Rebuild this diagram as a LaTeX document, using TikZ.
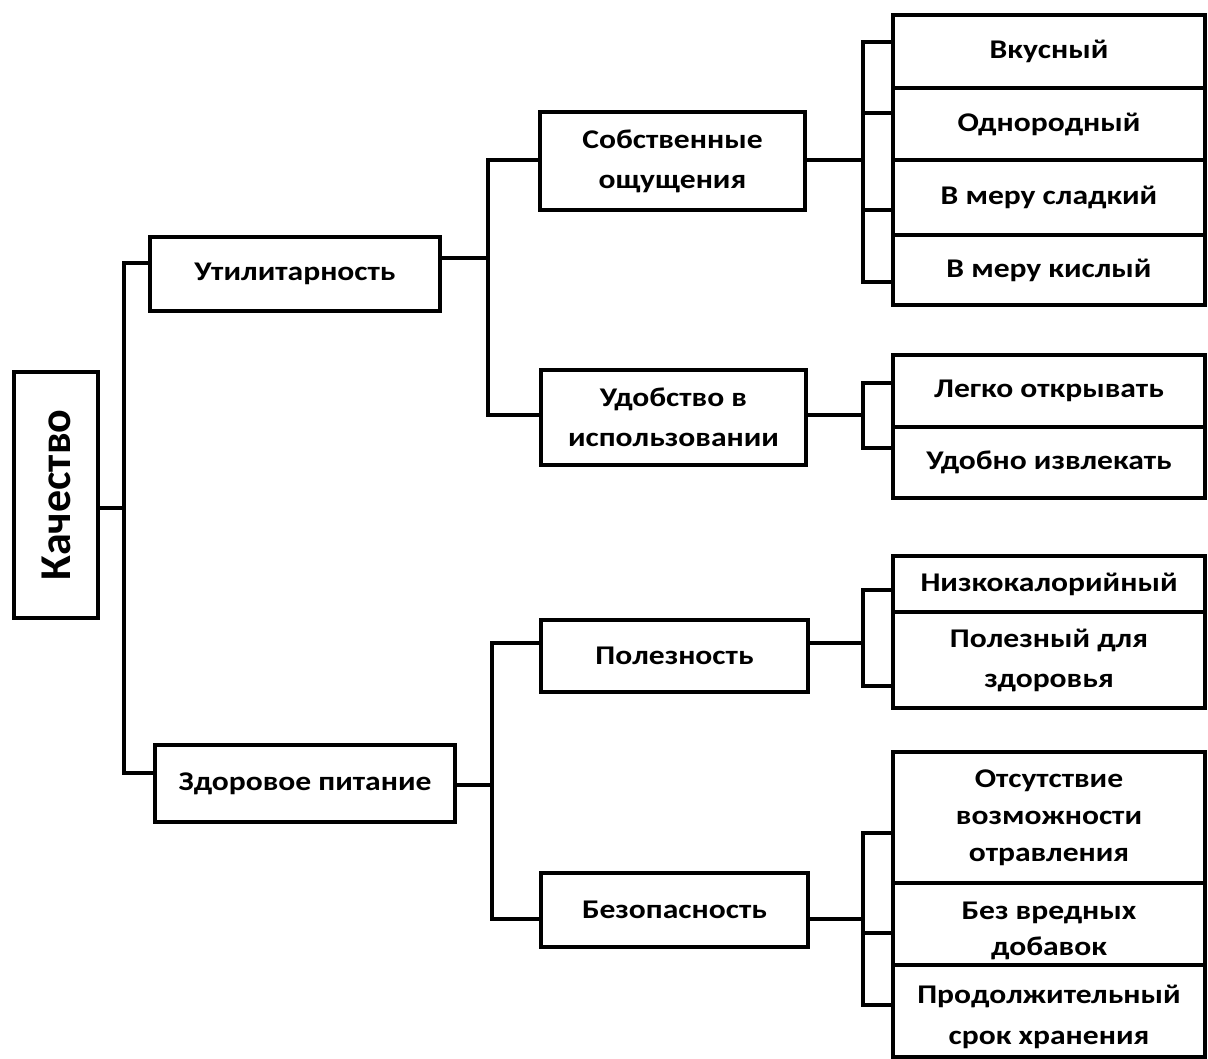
\documentclass[tikz,border=0pt]{standalone}
\usepackage{fontspec}
\setmainfont{Carlito}[BoldFont=* Bold,FakeStretch=1.17]
\newfontfamily\kachfont{Carlito}[BoldFont=* Bold]
\begin{document}
\begin{tikzpicture}[x=1pt,y=-1pt,
  box/.style={draw=black,line width=3.2pt,rectangle,inner sep=0pt,align=center,
    font=\bfseries\fontsize{27}{40}\selectfont},
  conn/.style={draw=black,line width=3.2pt}]
\useasboundingbox (0,0) rectangle (1208,1059);
% level 0
\node[box,minimum width=84pt,minimum height=246pt,font=\kachfont\bfseries\fontsize{44}{50}\selectfont] (kach) at (56,495) {\rotatebox{90}{Качество}};
% level 1
\node[box,minimum width=290pt,minimum height=74pt] (util) at (295,274) {Утилитарность};
\node[box,minimum width=300pt,minimum height=77pt] (zdor) at (305,783.5) {Здоровое питание};
% level 2
\node[box,minimum width=265pt,minimum height=98pt] (sobst) at (672.5,161) {Собственные\\ощущения};
\node[box,minimum width=265pt,minimum height=95pt] (udob) at (673.5,417.5) {Удобство в\\использовании};
\node[box,minimum width=267pt,minimum height=72pt] (polez) at (674.5,656) {Полезность};
\node[box,minimum width=267pt,minimum height=74pt] (bezop) at (674.5,910) {Безопасность};
% level 3
\node[box,minimum width=312pt,minimum height=73pt] (r1) at (1049,51.5) {Вкусный};
\node[box,minimum width=312pt,minimum height=72pt] (r2) at (1049,124) {Однородный};
\node[box,minimum width=312pt,minimum height=75pt] (r3) at (1049,197.5) {В меру сладкий};
\node[box,minimum width=312pt,minimum height=70pt] (r4) at (1049,270) {В меру кислый};
\node[box,minimum width=312pt,minimum height=72pt] (r5) at (1049,391) {Легко открывать};
\node[box,minimum width=312pt,minimum height=71pt] (r6) at (1049,462.5) {Удобно извлекать};
\node[box,minimum width=312pt,minimum height=56pt] (r7) at (1049,584) {Низкокалорийный};
\node[box,minimum width=312pt,minimum height=96pt] (r8) at (1049,660) {Полезный для\\здоровья};
\node[box,minimum width=312pt,minimum height=131pt,font=\bfseries\fontsize{27}{37}\selectfont] (r9) at (1049,817.5) {Отсутствие\\возможности\\отравления};
\node[box,minimum width=312pt,minimum height=82pt,font=\bfseries\fontsize{27}{36}\selectfont] (r10) at (1049,924) {\rule{0pt}{32pt}Без вредных\\добавок};
\node[box,minimum width=312pt,minimum height=92pt,font=\bfseries\fontsize{27}{41}\selectfont] (r11) at (1049,1011) {\rule{0pt}{30pt}Продолжительный\\срок хранения};
% junctions
\coordinate (j0) at (124,508);
\coordinate (j0t) at (124,263);
\coordinate (j0b) at (124,773);
\coordinate (j1) at (488,258);
\coordinate (j1t) at (488,160);
\coordinate (j1b) at (488,415);
\coordinate (j2) at (492,785);
\coordinate (j2t) at (492,643);
\coordinate (j2b) at (492,919);
\coordinate (j3) at (863,160);
\coordinate (j3a) at (863,42);
\coordinate (j3b) at (863,113);
\coordinate (j3c) at (863,210);
\coordinate (j3d) at (863,282);
\coordinate (j4) at (863,415);
\coordinate (j4a) at (863,383);
\coordinate (j4b) at (863,448);
\coordinate (j5) at (863,643);
\coordinate (j5a) at (863,590);
\coordinate (j5b) at (863,686);
\coordinate (j6) at (863,919);
\coordinate (j6a) at (863,833);
\coordinate (j6b) at (863,933);
\coordinate (j6c) at (863,1005);
% connectors
\draw[conn] (kach.east |- j0) -- (j0);
\draw[conn] (util.west |- j0t) -- (j0t) -- (j0b) -- (zdor.west |- j0b);
\draw[conn] (util.east |- j1) -- (j1);
\draw[conn] (sobst.west |- j1t) -- (j1t) -- (j1b) -- (udob.west |- j1b);
\draw[conn] (zdor.east |- j2) -- (j2);
\draw[conn] (polez.west |- j2t) -- (j2t) -- (j2b) -- (bezop.west |- j2b);
\draw[conn] (sobst.east |- j3) -- (j3);
\draw[conn] (r1.west |- j3a) -- (j3a) -- (j3d) -- (r4.west |- j3d);
\draw[conn] (j3b) -- (r2.west |- j3b);
\draw[conn] (j3c) -- (r3.west |- j3c);
\draw[conn] (udob.east |- j4) -- (j4);
\draw[conn] (r5.west |- j4a) -- (j4a) -- (j4b) -- (r6.west |- j4b);
\draw[conn] (polez.east |- j5) -- (j5);
\draw[conn] (r7.west |- j5a) -- (j5a) -- (j5b) -- (r8.west |- j5b);
\draw[conn] (bezop.east |- j6) -- (j6);
\draw[conn] (r9.west |- j6a) -- (j6a) -- (j6c) -- (r11.west |- j6c);
\draw[conn] (j6b) -- (r10.west |- j6b);
\end{tikzpicture}
\end{document}
